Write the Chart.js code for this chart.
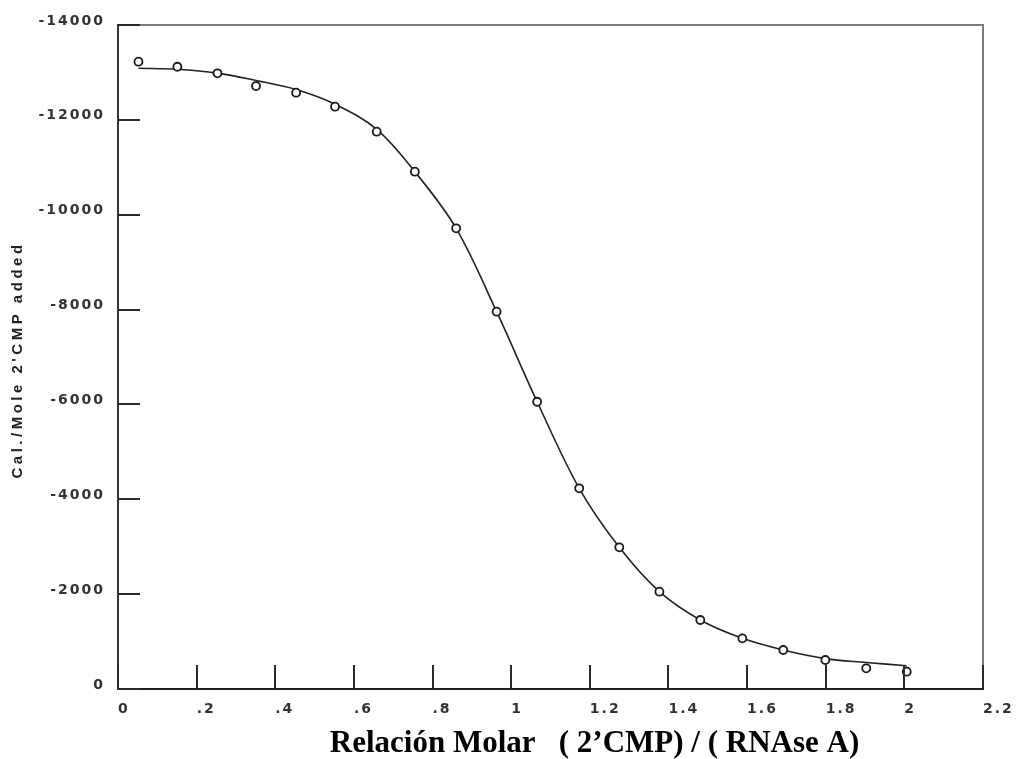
<!DOCTYPE html>
<html>
<head>
<meta charset="utf-8">
<script src="https://cdn.jsdelivr.net/npm/chart.js@4.4.1/dist/chart.umd.min.js"></script>
<style>
html,body{margin:0;padding:0;background:#fff;}
canvas{display:block;}
</style>
</head>
<body>
<canvas id="c" width="1021" height="759"></canvas>
<script>
// ---- data ----
const molarRatio = [0.052,0.151,0.253,0.351,0.453,0.552,0.658,0.755,0.860,0.963,1.066,1.173,1.275,1.377,1.481,1.588,1.692,1.799,1.903,2.006];
const heatMeasured = [-13226,-13120,-12982,-12713,-12573,-12278,-11750,-10907,-9713,-7955,-6057,-4231,-2987,-2052,-1455,-1068,-822,-611,-436,-365];
const heatFit = [-13087,-13066,-12985,-12830,-12640,-12330,-11800,-10907,-9713,-7955,-6057,-4231,-2987,-2052,-1455,-1068,-822,-640,-560,-490];

const xTickValues = [0,0.2,0.4,0.6,0.8,1,1.2,1.4,1.6,1.8,2,2.2];
const xTickLabels = ['0','.2','.4','.6','.8','1','1.2','1.4','1.6','1.8','2','2.2'];
const yTickValues = [-14000,-12000,-10000,-8000,-6000,-4000,-2000,0];
const yTickLabels = ['-14000','-12000','-10000','-8000','-6000','-4000','-2000','0'];

const xTitle = 'Relación Molar   ( 2’CMP) / ( RNAse A)';
const yTitle = "Cal./Mole 2'CMP added";

const measuredPoints = molarRatio.map((x,i)=>({x:x, y:heatMeasured[i]}));
const fitPoints = molarRatio.map((x,i)=>({x:x, y:heatFit[i]}));

const framePlugin = {
  id: 'frame',
  beforeDraw(chart){ chart.ctx.letterSpacing = '2px'; },
  afterDraw(chart){
    const {ctx, chartArea, scales} = chart;
    const {left, right, top, bottom} = chartArea;
    const xs = scales.x, ys = scales.y;
    ctx.save();
    ctx.letterSpacing = '0px';
    // top and right frame
    ctx.strokeStyle = '#7a7a7a';
    ctx.lineWidth = 2;
    ctx.beginPath();
    ctx.moveTo(left, top); ctx.lineTo(right, top); ctx.lineTo(right, bottom);
    ctx.stroke();
    // inward tick marks
    ctx.strokeStyle = '#2a2a2a';
    ctx.lineWidth = 2;
    xs.ticks.forEach(t => {
      const p = Math.round(xs.getPixelForValue(t.value));
      ctx.beginPath(); ctx.moveTo(p, bottom); ctx.lineTo(p, bottom - 24); ctx.stroke();
    });
    ys.ticks.forEach(t => {
      const p = Math.round(ys.getPixelForValue(t.value));
      ctx.beginPath(); ctx.moveTo(left, p); ctx.lineTo(left + 22, p); ctx.stroke();
    });
    // y title
    ctx.save();
    ctx.translate(left - 100, (top + bottom) / 2 + 3);
    ctx.rotate(-Math.PI / 2);
    ctx.font = 'bold 15px "Liberation Sans", Arial, sans-serif';
    ctx.letterSpacing = '3.5px';
    ctx.fillStyle = '#222';
    ctx.textAlign = 'center';
    ctx.textBaseline = 'middle';
    ctx.fillText(yTitle, 0, 0);
    ctx.restore();
    // x title
    ctx.font = 'bold 31px "Liberation Serif", "Times New Roman", serif';
    ctx.letterSpacing = '0px';
    ctx.fillStyle = '#000';
    ctx.textAlign = 'center';
    ctx.textBaseline = 'alphabetic';
    ctx.fillText(xTitle, (left + right) / 2 + 44, 752);
    ctx.restore();
  }
};

new Chart(document.getElementById('c'), {
  type: 'scatter',
  data: {
    datasets: [
      {
        label: 'measured',
        data: measuredPoints,
        showLine: false,
        pointStyle: 'circle',
        pointRadius: 4,
        pointBorderWidth: 1.8,
        pointBorderColor: '#1a1a1a',
        pointBackgroundColor: '#ffffff'
      },
      {
        label: 'fit',
        data: fitPoints,
        showLine: true,
        pointRadius: 0,
        borderColor: '#222',
        borderWidth: 1.6,
        tension: 0.35,
        fill: false
      }
    ]
  },
  options: {
    responsive: false,
    animation: false,
    events: [],
    layout: { padding: { left: 0, top: 25, right: 38, bottom: 0 } },
    plugins: { legend: { display: false }, tooltip: { enabled: false }, title: { display: false } },
    scales: {
      x: {
        type: 'linear',
        min: 0, max: 2.2,
        afterBuildTicks: s => { s.ticks = xTickValues.map(v => ({value: v})); },
        afterFit: s => { s.height = 70; },
        grid: { display: false, drawTicks: false },
        border: { display: true, color: '#1e1e1e', width: 2 },
        ticks: {
          autoSkip: false,
          maxRotation: 0,
          align: 'start',
          padding: 12,
          color: '#333',
          font: { family: '"DejaVu Sans", sans-serif', size: 14, weight: 'bold' },
          callback: (v, i) => xTickLabels[i]
        }
      },
      y: {
        type: 'linear',
        reverse: true,
        min: -14000, max: 0,
        afterBuildTicks: s => { s.ticks = yTickValues.map(v => ({value: v})); },
        afterFit: s => { s.width = 118; },
        grid: { display: false, drawTicks: false },
        border: { display: true, color: '#333', width: 2 },
        ticks: {
          autoSkip: false,
          padding: 13,
          labelOffset: -4,
          color: '#333',
          font: { family: '"DejaVu Sans", sans-serif', size: 14, weight: 'bold' },
          callback: (v, i) => yTickLabels[i]
        }
      }
    }
  },
  plugins: [framePlugin]
});
</script>
</body>
</html>
